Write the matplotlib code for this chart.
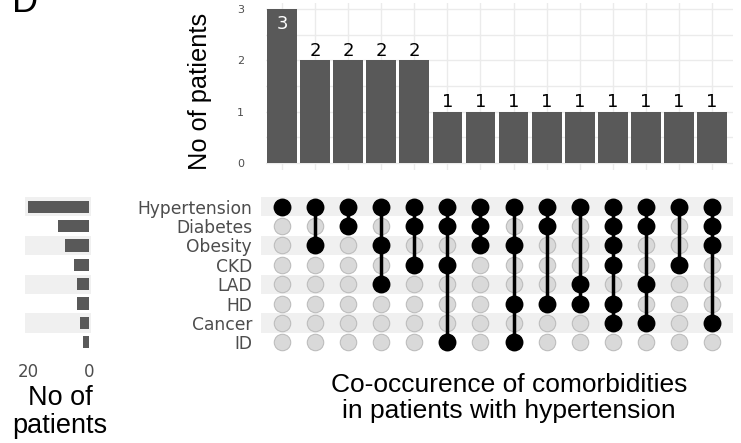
import numpy as np
import matplotlib
matplotlib.use("Agg")
import matplotlib.pyplot as plt

# --- DATA ---
sets = ["Hypertension", "Diabetes", "Obesity", "CKD", "LAD", "HD", "Cancer", "ID"]
set_sizes = [20, 10, 8, 5, 4, 4, 3, 2]
combos = [
    ["Hypertension"],
    ["Hypertension", "Obesity"],
    ["Hypertension", "Diabetes"],
    ["Hypertension", "Obesity", "LAD"],
    ["Hypertension", "Diabetes", "CKD"],
    ["Hypertension", "Diabetes", "CKD", "ID"],
    ["Hypertension", "Diabetes", "Obesity"],
    ["Hypertension", "Obesity", "HD", "ID"],
    ["Hypertension", "Diabetes", "HD"],
    ["Hypertension", "LAD", "HD"],
    ["Hypertension", "Diabetes", "Obesity", "CKD", "HD", "Cancer"],
    ["Hypertension", "Diabetes", "LAD", "Cancer"],
    ["Hypertension", "CKD"],
    ["Hypertension", "Diabetes", "Obesity", "Cancer"],
]
combo_counts = [3, 2, 2, 2, 2, 1, 1, 1, 1, 1, 1, 1, 1, 1]

BAR = "#595959"
STRIPE = "#f0f0f0"
GRID = "#ebebeb"
W, H = 741, 443

def box(l, t, r, b):
    return [l / W, 1 - b / H, (r - l) / W, (b - t) / H]

fig = plt.figure(figsize=(W / 100, H / 100), dpi=100)
sans = ["Liberation Sans", "DejaVu Sans"]

n = len(combos)
xs = np.arange(n)
xlim = (-0.485, 13.635)

# --- INTERSECTION BARS ---
ax = fig.add_axes(box(266, 3, 733, 170))
ax.set_xlim(*xlim)
ax.set_ylim(-0.14, 3.12)
ax.set_yticks([0, 1, 2, 3])
ax.set_yticks([0.5, 1.5, 2.5], minor=True)
ax.set_xticks(xs)
ax.grid(True, which="both", color=GRID, lw=1)
ax.set_axisbelow(True)
for s in ax.spines.values():
    s.set_visible(False)
ax.tick_params(axis="x", length=0, labelbottom=False)
ax.tick_params(axis="y", which="both", length=0, labelsize=8, colors="#4d4d4d", pad=16)
ax.bar(xs, combo_counts, width=0.9, color=BAR)
for x, c in zip(xs, combo_counts):
    if c == max(combo_counts):
        ax.text(x, c - 0.12, str(c), ha="center", va="top", color="white", fontsize=13)
    else:
        ax.text(x, c + 0.01, str(c), ha="center", va="bottom", color="black", fontsize=13)
ax.set_ylabel("No of patients", fontsize=18.3, family=sans)
ax.yaxis.set_label_coords((212 - 266) / 467, 0.47)

# --- MATRIX ---
mx = fig.add_axes(box(266, 197, 733, 352))
mx.set_xlim(*xlim)
mx.set_ylim(len(sets) - 0.5, -0.5)
for s in mx.spines.values():
    s.set_visible(False)
mx.set_xticks([])
mx.set_yticks(range(len(sets)))
mx.set_yticklabels(sets, fontsize=12.3, color="#4d4d4d")
mx.tick_params(axis="y", length=0, pad=10)
for i in range(0, len(sets), 2):
    mx.axhspan(i - 0.5, i + 0.5, xmin=-0.01, xmax=1, color=STRIPE, zorder=0, lw=0, clip_on=False)
for x, combo in zip(xs, combos):
    for j in range(len(sets)):
        mx.scatter(x, j, s=140, color="#d9d9d9", edgecolor="#bdbdbd", lw=0.8, zorder=2)
    idx = [sets.index(c) for c in combo]
    mx.plot([x, x], [min(idx), max(idx)], color="black", lw=2.5, zorder=3)
    mx.scatter([x] * len(idx), idx, s=140, color="black", zorder=4)
mx.set_xlabel("Co-occurence of comorbidities\nin patients with hypertension",
              fontsize=19, family=sans, linespacing=1.08)
mx.xaxis.set_label_coords((509 - 266) / 467, -(373 - 352) / 155)
mx.xaxis.label.set_va("top")

# --- SET SIZE BARS ---
sx = fig.add_axes(box(25, 197, 91, 352))
sx.set_xlim(20.98, -0.66)
sx.set_ylim(len(sets) - 0.5, -0.5)
for i in range(0, len(sets), 2):
    sx.axhspan(i - 0.5, i + 0.5, color=STRIPE, zorder=0, lw=0)
sx.barh(range(len(sets)), set_sizes, height=0.63, color=BAR, zorder=2)
for s in sx.spines.values():
    s.set_visible(False)
sx.set_yticks([])
sx.set_xticks([20, 0])
sx.tick_params(axis="x", length=0, labelsize=12, colors="#4d4d4d", pad=8)
sx.set_xlabel("No of\npatients", fontsize=19.5, family=sans, linespacing=1.08)
sx.xaxis.set_label_coords((60 - 25) / 66, -(385 - 352) / 155)
sx.xaxis.label.set_va("top")

fig.text(12 / W, 1 - 12 / H, "D", fontsize=26, family=sans, ha="left", va="baseline")

fig.savefig("out.png", dpi=100)
